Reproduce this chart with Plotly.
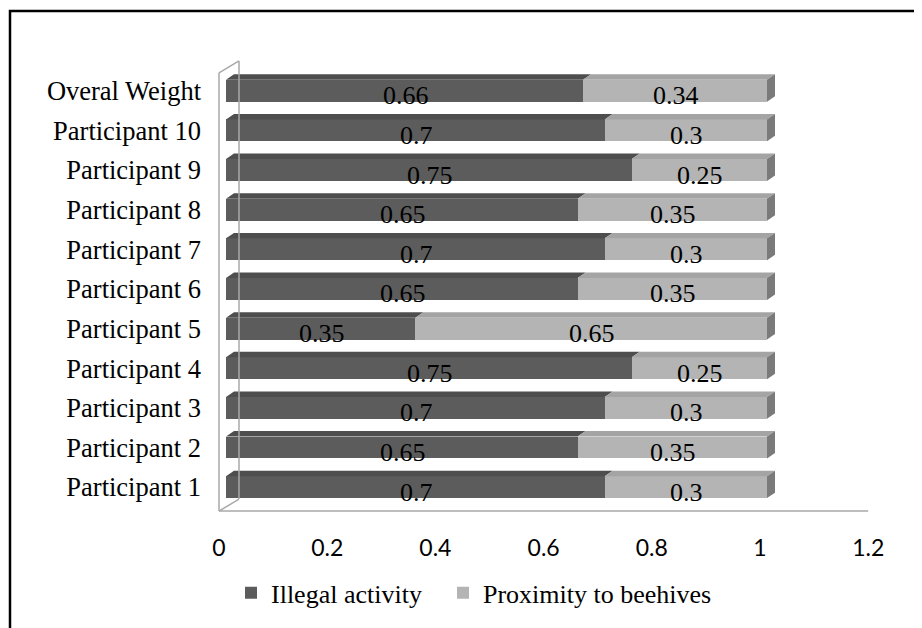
import plotly.graph_objects as go

# ---------------- data ----------------
categories = ["Participant 1", "Participant 2", "Participant 3", "Participant 4",
              "Participant 5", "Participant 6", "Participant 7", "Participant 8",
              "Participant 9", "Participant 10", "Overal Weight"]
illegal = [0.7, 0.65, 0.7, 0.75, 0.35, 0.65, 0.7, 0.65, 0.75, 0.7, 0.66]
proximity = [0.3, 0.35, 0.3, 0.25, 0.65, 0.35, 0.3, 0.35, 0.25, 0.3, 0.34]
series_names = ["Illegal activity", "Proximity to beehives"]
x_ticks = [0, 0.2, 0.4, 0.6, 0.8, 1, 1.2]
x_ticklabels = ["0", "0.2", "0.4", "0.6", "0.8", "1", "1.2"]

# ---------------- layout geometry (reference pixels) ----------------
OFF = 8              # page body margin offset
W, H = 922, 628
L, R, T, B = 212, 880, 30, 530
PXU = 541.0          # pixels per x unit
X0_BAR = 226.0       # pixel of x=0 at bar depth
X0_FRONT = 219.0     # pixel of x=0 at front plane (tick labels)
ROW0 = 489.0         # pixel y of first row centre
PITCH = 39.8         # pixels between rows
BAR_W = 22.0 / 39.8
DX, DY = 8.0, 5.5    # 3D offset in pixels

xr = [(L - X0_BAR) / PXU, (R - X0_BAR) / PXU]
x2r = [(L - X0_FRONT) / PXU, (R - X0_FRONT) / PXU]
yr = [(ROW0 - B) / PITCH, (ROW0 - T) / PITCH]

def py(p):  # pixel y -> category index
    return (ROW0 - p) / PITCH

def paper_x(p):
    return (p - L) / (R - L)

def paper_y(p):
    return (B - p) / (B - T)

DARK, LIGHT = "#5c5c5c", "#b4b4b4"
DARK_TOP, LIGHT_TOP, SIDE = "#4e4e4e", "#a4a4a4", "#7a7a7a"
SERIF = "Liberation Serif"

fig = go.Figure()
fig.add_trace(go.Bar(y=categories, x=illegal, orientation="h", name=series_names[0],
                     marker=dict(color=DARK, line=dict(width=0)), width=BAR_W,
                     legendwidth=167))
fig.add_trace(go.Bar(y=categories, x=proximity, orientation="h", name=series_names[1],
                     marker=dict(color=LIGHT, line=dict(width=0)), width=BAR_W,
                     legendwidth=275))

shapes = []
annotations = []
dxu = DX / PXU
dyu = DY / PITCH
for i, (a, b) in enumerate(zip(illegal, proximity)):
    top = i + BAR_W / 2
    bot = i - BAR_W / 2
    for (s, e, col) in [(0, a, DARK_TOP), (a, a + b, LIGHT_TOP)]:
        shapes.append(dict(type="path", xref="x", yref="y",
                           path=f"M {s},{top} L {e},{top} L {e+dxu},{top+dyu} L {s+dxu},{top+dyu} Z",
                           fillcolor=col, line=dict(width=0), layer="above"))
    e = a + b
    shapes.append(dict(type="path", xref="x", yref="y",
                       path=f"M {e},{top} L {e+dxu},{top+dyu} L {e+dxu},{bot+dyu} L {e},{bot} Z",
                       fillcolor=SIDE, line=dict(width=0), layer="above"))
    for (s, v) in [(0, a), (a, b)]:
        annotations.append(dict(x=s + v / 2, y=categories[i], xref="x", yref="y",
                                text=f"{v:g}", showarrow=False, xshift=1, yshift=-5,
                                font=dict(family=SERIF, size=26, color="black")))

# wall and floor edges
WALL = dict(color="#a8a8a8", width=1.5)
wd = 20.0 / PXU
shapes += [
    dict(type="line", xref="x2", yref="y", x0=0, x1=0, y0=py(73), y1=py(513), line=WALL),
    dict(type="line", xref="x2", yref="y", x0=wd, x1=wd, y0=py(61), y1=py(501), line=WALL),
    dict(type="line", xref="x2", yref="y", x0=0, x1=wd, y0=py(73), y1=py(61), line=WALL),
    dict(type="line", xref="x2", yref="y", x0=0, x1=wd, y0=py(513), y1=py(501), line=WALL),
    dict(type="line", xref="x2", yref="y", x0=0, x1=1.2, y0=py(513), y1=py(513), line=WALL),
]
# outer frame
shapes.append(dict(type="rect", xref="paper", yref="paper",
                   x0=paper_x(10), x1=5, y0=-5, y1=paper_y(11),
                   line=dict(color="black", width=2.5), fillcolor="rgba(0,0,0,0)"))

fig.update_layout(
    width=W - OFF, height=H - OFF,
    margin=dict(l=L - OFF, r=W - R, t=T - OFF, b=H - B),
    barmode="stack",
    paper_bgcolor="white", plot_bgcolor="white",
    shapes=shapes, annotations=annotations,
    showlegend=True,
    legend=dict(orientation="h", x=paper_x(231), xanchor="left",
                y=paper_y(595), yanchor="middle",
                font=dict(family=SERIF, size=26, color="black"),
                traceorder="normal"),
    xaxis=dict(range=xr, visible=False, fixedrange=True),
    xaxis2=dict(range=x2r, overlaying="x", anchor="y", side="bottom",
                tickvals=x_ticks, ticktext=x_ticklabels, showgrid=False,
                zeroline=False, showline=False, ticks="",
                tickfont=dict(family="Lato", size=23, color="black"),
                ticklabelstandoff=4),
    yaxis=dict(range=yr, type="category", showgrid=False, zeroline=False,
               showline=False, ticks="", ticklabelstandoff=10,
               tickfont=dict(family=SERIF, size=26.5, color="black")),
)
fig.add_trace(go.Scatter(x=[None], y=[None], xaxis="x2", showlegend=False, hoverinfo="skip"))

fig.write_html("out.html")
